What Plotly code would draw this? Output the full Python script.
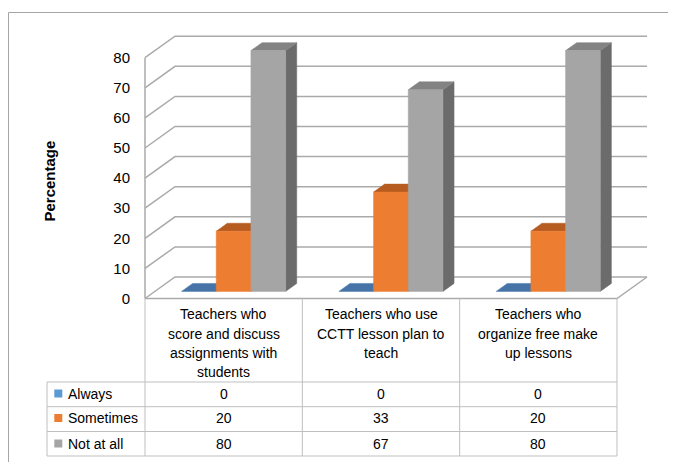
import plotly.graph_objects as go

# data
categories = [
    "Teachers who<br>score and discuss<br>assignments with<br>students",
    "Teachers who use<br>CCTT lesson plan to<br>teach",
    "Teachers who<br>organize free make<br>up lessons",
]
series_names = ["Always", "Sometimes", "Not at all"]
always = [0, 0, 0]
sometimes = [20, 33, 20]
not_at_all = [80, 67, 80]
y_ticks = [0, 10, 20, 30, 40, 50, 60, 70, 80]

series_values = [always, sometimes, not_at_all]
front_colors = ["#5B9BD5", "#ED7D31", "#A5A5A5"]
top_colors = ["#4674A8", "#B65C20", "#838383"]
side_colors = ["#3F6A96", "#A35220", "#6B6B6B"]
grid_color = "#AAAAAA"
table_color = "#BFBFBF"
font_family = "Liberation Sans, Arial, sans-serif"

# the page body has an 8px margin, so the figure is drawn 8px in
OFF = 8
W, H = 676 - OFF, 462 - OFF

# window pixel -> data mapping (one category = 1 x unit, front plane)
X0_PX, UNIT_X = 145, 157.33
Y0_PX, UNIT_Y = 298.5, 3.01


def px_x(p):
    return (p - X0_PX) / UNIT_X - 0.5


def px_y(p):
    return (Y0_PX - p) / UNIT_Y


# depth of the 3D box and of the bars
DX = 30 / UNIT_X
DY = 21.5 / UNIT_Y
BAR_W = 34.7 / UNIT_X
FRONT_F = 0.33
DEPTH_F = 0.37

fig = go.Figure()

# walls and floor
n = len(categories)
left, right = -0.5, n - 0.5
gx, gy = [], []
for v in y_ticks:
    gx += [left, left + DX, right + DX, None]
    gy += [v, v + DY, v + DY, None]
gx += [left, right, right + DX, None, left, left]
gy += [0, 0, DY, None, 0, y_ticks[-1]]
fig.add_trace(go.Scatter(x=gx, y=gy, mode="lines",
                         line=dict(color=grid_color, width=1.5),
                         hoverinfo="skip", showlegend=False))


def poly(xs, ys, color):
    fig.add_trace(go.Scatter(
        x=xs + [xs[0]], y=ys + [ys[0]], mode="lines", fill="toself",
        fillcolor=color, line=dict(color=color, width=0.5),
        hoverinfo="skip", showlegend=False))


# 3D columns
for i in range(n):
    for j, vals in enumerate(series_values):
        v = vals[i]
        xl = i - 1.5 * BAR_W + j * BAR_W + FRONT_F * DX
        xr = xl + BAR_W
        yb = FRONT_F * DY
        bx, by = DEPTH_F * DX, DEPTH_F * DY
        if v > 0:
            poly([xr, xr, xr + bx, xr + bx], [yb, yb + v, yb + v + by, yb + by], side_colors[j])
        poly([xl, xr, xr + bx, xl + bx], [yb + v, yb + v, yb + v + by, yb + v + by], top_colors[j])
        if v > 0:
            poly([xl, xr, xr, xl], [yb, yb, yb + v, yb + v], front_colors[j])

# data table
row_lines = [382, 406.7, 431.5, 456]
tx, ty = [], []
for r in row_lines:
    tx += [px_x(47), right, None]
    ty += [px_y(r), px_y(r), None]
for k in range(n + 1):
    tx += [left + k, left + k, None]
    ty += [0, px_y(row_lines[-1]), None]
tx += [px_x(47), px_x(47)]
ty += [px_y(row_lines[0]), px_y(row_lines[-1])]
fig.add_trace(go.Scatter(x=tx, y=ty, mode="lines",
                         line=dict(color=table_color, width=1),
                         hoverinfo="skip", showlegend=False))

row_centers = [393.5, 418, 443.5]
fig.add_trace(go.Scatter(
    x=[px_x(58.3)] * 3, y=[px_y(c) for c in row_centers], mode="markers",
    marker=dict(symbol="square", size=8, color=front_colors),
    hoverinfo="skip", showlegend=False))

annotations = []
header_lines = [314.3, 334, 353, 372]
for i, cat in enumerate(categories):
    for k, line in enumerate(cat.split("<br>")):
        annotations.append(dict(x=i, y=px_y(header_lines[k]), text=line,
                                showarrow=False, font=dict(size=14)))
for j, name in enumerate(series_names):
    annotations.append(dict(x=px_x(66), y=px_y(row_centers[j]), text=name,
                            xanchor="left", showarrow=False, font=dict(size=14)))
    for i in range(n):
        annotations.append(dict(x=i, y=px_y(row_centers[j]), text=str(series_values[j][i]),
                                showarrow=False, font=dict(size=14)))

annotations.append(dict(x=px_x(48.5), y=px_y(181), text="<b>Percentage</b>",
                        textangle=-90, showarrow=False, font=dict(size=15)))

fig.update_layout(
    width=W, height=H,
    margin=dict(l=0, r=0, t=0, b=0),
    paper_bgcolor="white", plot_bgcolor="white",
    font=dict(family=font_family, color="#000000"),
    annotations=annotations,
    xaxis=dict(range=[px_x(OFF), px_x(OFF + W)], visible=False, fixedrange=True),
    yaxis=dict(range=[px_y(OFF + H), px_y(OFF)], tickvals=y_ticks, showgrid=False,
               zeroline=False, showline=False, ticks="", anchor="free",
               position=(X0_PX - OFF) / W, ticklabelstandoff=15,
               tickfont=dict(size=15), fixedrange=True),
    shapes=[
        dict(type="line", xref="paper", yref="paper", x0=0.5 / W, x1=1, y0=1 - 4.5 / H, y1=1 - 4.5 / H,
             line=dict(color="#A6A6A6", width=1)),
        dict(type="line", xref="paper", yref="paper", x0=0.5 / W, x1=0.5 / W, y0=0, y1=1 - 4.5 / H,
             line=dict(color="#A6A6A6", width=1)),
    ],
    showlegend=False,
)

fig.write_html("out.html")
